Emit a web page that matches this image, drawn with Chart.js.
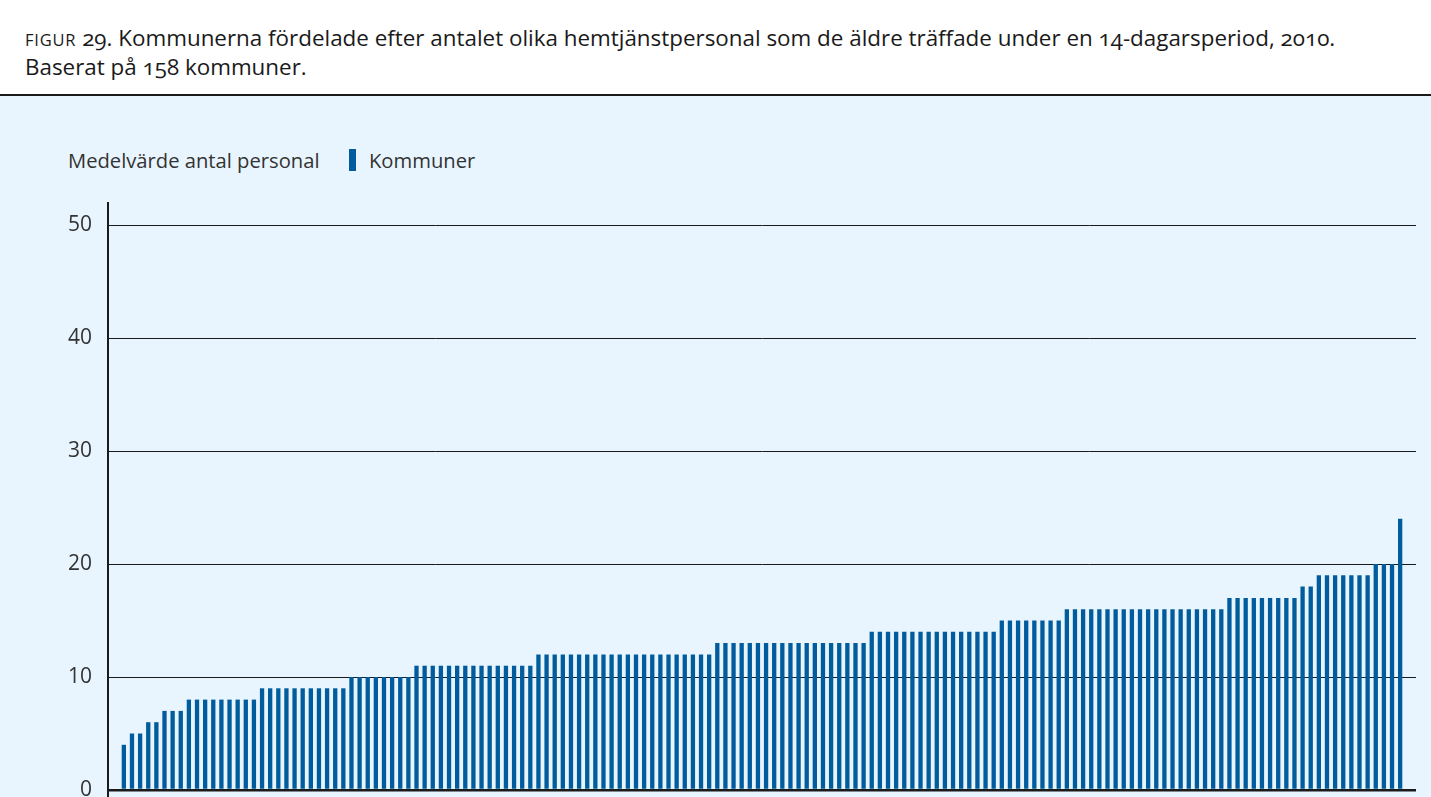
<!DOCTYPE html>
<html>
<head>
<meta charset="utf-8">
<script src="https://cdn.jsdelivr.net/npm/chart.js@4.4.1/dist/chart.umd.min.js"></script>
<style>
  body { margin: 0; width: 1431px; height: 797px; overflow: hidden; background: #fff; font-family: "Open Sans", sans-serif; }
  .title { position: absolute; left: 25px; top: 24px; font-size: 22.4px; line-height: 27px; color: #1a1a1a; font-variant-numeric: oldstyle-nums; }
  .title .sc { font-size: 16.5px; letter-spacing: 0.8px; }
  .rule { position: absolute; left: 0; top: 94px; width: 1431px; height: 2px; background: #1a1a1a; }
  .panel { position: absolute; left: 0; top: 96px; width: 1431px; height: 701px; background: #e8f5fe; }
  .legend { position: absolute; top: 146px; font-size: 20.2px; color: #333; }
  .mark { position: absolute; left: 349px; top: 149px; width: 7px; height: 22px; background: #005c9c; }
  #wrap { position: absolute; left: 0; top: 97px; width: 1431px; height: 700px; }
</style>
</head>
<body>
<div class="title"><span class="sc">FIGUR</span> 29. Kommunerna fördelade efter antalet olika hemtjänstpersonal som de äldre träffade under en 14-dagarsperiod, 2010.<br>Baserat på 158 kommuner.</div>
<div class="rule"></div>
<div class="panel"></div>
<div class="legend" style="left:68px">Medelvärde antal personal</div>
<div class="mark"></div>
<div class="legend" style="left:369px">Kommuner</div>
<div id="wrap"><canvas id="chart"></canvas></div>
<script>
// medelvärde antal personal per kommun, sorterat
const personal = [
    4,
    5, 5,
    6, 6,
    7, 7, 7,
    8, 8, 8, 8, 8, 8, 8, 8, 8,
    9, 9, 9, 9, 9, 9, 9, 9, 9, 9, 9,
    10, 10, 10, 10, 10, 10, 10, 10,
    11, 11, 11, 11, 11, 11, 11, 11, 11, 11, 11, 11, 11, 11, 11,
    12, 12, 12, 12, 12, 12, 12, 12, 12, 12, 12, 12, 12, 12, 12, 12, 12, 12, 12, 12, 12, 12,
    13, 13, 13, 13, 13, 13, 13, 13, 13, 13, 13, 13, 13, 13, 13, 13, 13, 13, 13,
    14, 14, 14, 14, 14, 14, 14, 14, 14, 14, 14, 14, 14, 14, 14, 14,
    15, 15, 15, 15, 15, 15, 15, 15,
    16, 16, 16, 16, 16, 16, 16, 16, 16, 16, 16, 16, 16, 16, 16, 16, 16, 16, 16, 16,
    17, 17, 17, 17, 17, 17, 17, 17, 17,
    18, 18,
    19, 19, 19, 19, 19, 19, 19,
    20, 20, 20,
    24
];
const yTicks = [0, 10, 20, 30, 40, 50];
const seriesName = 'Kommuner';

const points = personal.map((v, i) => ({ x: i, y: v }));

new Chart(document.getElementById('chart'), {
    type: 'bar',
    data: {
        datasets: [{
            label: seriesName,
            data: points,
            backgroundColor: '#005c9c',
            barPercentage: 0.53,
            categoryPercentage: 1
        }]
    },
    options: {
        responsive: true,
        maintainAspectRatio: false,
        animation: false,
        layout: { padding: { left: 0, right: 15, top: 106, bottom: 0 } },
        plugins: {
            legend: { display: false },
            tooltip: { enabled: false }
        },
        scales: {
            x: {
                type: 'linear',
                display: false,
                offset: false,
                min: -1.95,
                max: 158.95,
                grid: { offset: false }
            },
            y: {
                min: -0.62,
                max: 51.95,
                afterBuildTicks: function(scale) {
                    scale.ticks = yTicks.map(v => ({ value: v }));
                },
                afterFit: function(scale) {
                    scale.width = 108;
                    scale.paddingTop = 0;
                    scale.paddingBottom = 0;
                },
                border: { display: true, color: '#1a1a1a', width: 2 },
                grid: {
                    drawTicks: false,
                    color: '#1a1a1a',
                    lineWidth: (ctx) => ctx.tick && ctx.tick.value === 0 ? 2.5 : 1
                },
                ticks: {
                    padding: 16,
                    color: '#333',
                    font: { family: 'Open Sans', size: 21 }
                }
            }
        }
    }
});
</script>
</body>
</html>
